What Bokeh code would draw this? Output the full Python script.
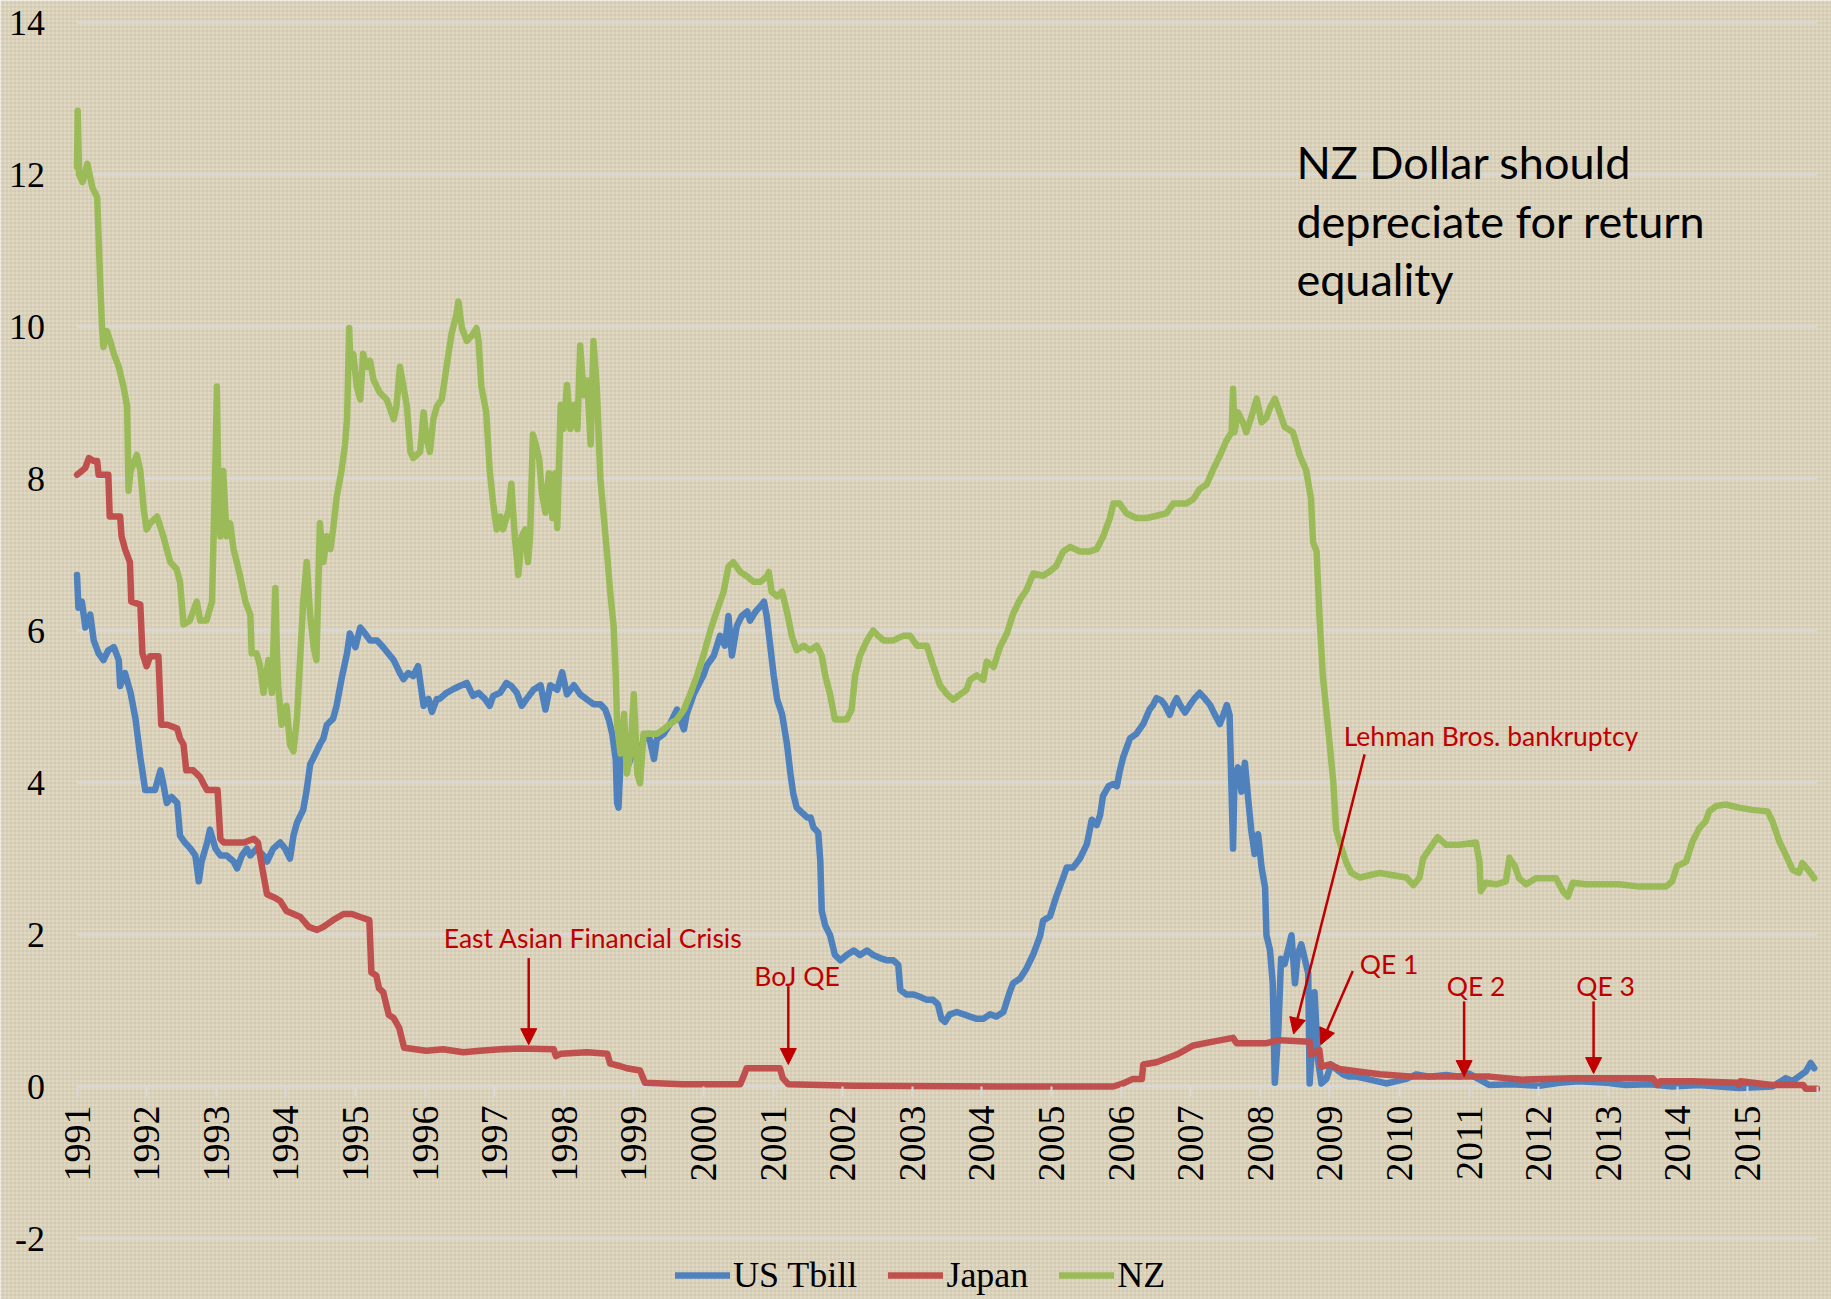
import math
from bokeh.plotting import figure
from bokeh.models import (ColumnDataSource, FixedTicker, Legend, LegendItem,
                          Arrow, NormalHead, BoxAnnotation)
from bokeh.core.properties import value
from bokeh.embed import file_html
from bokeh.resources import INLINE

# ---------------- data ----------------
years = list(range(1991, 2017))
year_labels = [str(y) if y < 2016 else "" for y in years]
y_ticks = [-2, 0, 2, 4, 6, 8, 10, 12, 14]
y_labels = ["-2", "0", "2", "4", "6", "8", "10", "12", "14"]

us_t = [1991.00, 1991.02, 1991.07, 1991.12, 1991.19, 1991.24, 1991.31, 1991.38, 1991.45, 1991.53,
        1991.60, 1991.62, 1991.69, 1991.77, 1991.84, 1991.91, 1991.98, 1992.05, 1992.12, 1992.20,
        1992.24, 1992.29, 1992.36, 1992.44, 1992.48, 1992.55, 1992.63, 1992.70, 1992.75, 1992.79,
        1992.87, 1992.91, 1992.99, 1993.06, 1993.15, 1993.25, 1993.30, 1993.37, 1993.44, 1993.49,
        1993.58, 1993.68, 1993.73, 1993.82, 1993.92, 1993.99, 1994.06, 1994.11, 1994.16, 1994.25,
        1994.30, 1994.35, 1994.40, 1994.49, 1994.54, 1994.59, 1994.68, 1994.73, 1994.80, 1994.88,
        1994.92, 1995.00, 1995.07, 1995.14, 1995.21, 1995.31, 1995.40, 1995.47, 1995.55, 1995.64,
        1995.69, 1995.76, 1995.83, 1995.90, 1995.98, 1996.05, 1996.10, 1996.17, 1996.21, 1996.31,
        1996.41, 1996.50, 1996.60, 1996.69, 1996.77, 1996.86, 1996.93, 1996.98, 1997.08, 1997.17,
        1997.24, 1997.32, 1997.39, 1997.46, 1997.56, 1997.66, 1997.73, 1997.80, 1997.90, 1997.97,
        1998.04, 1998.14, 1998.23, 1998.33, 1998.42, 1998.52, 1998.59, 1998.64, 1998.69, 1998.74,
        1998.76, 1998.78, 1998.81, 1998.86, 1998.93, 1999.00, 1999.07, 1999.14, 1999.21, 1999.29,
        1999.33, 1999.43, 1999.52, 1999.62, 1999.72, 1999.76, 1999.86, 2000.00, 2000.05, 2000.15,
        2000.24, 2000.31, 2000.36, 2000.41, 2000.48, 2000.55, 2000.63, 2000.67, 2000.75, 2000.82,
        2000.87, 2000.91, 2000.96, 2001.01, 2001.06, 2001.13, 2001.20, 2001.25, 2001.29, 2001.34,
        2001.42, 2001.49, 2001.54, 2001.58, 2001.65, 2001.68, 2001.70, 2001.75, 2001.82, 2001.89,
        2001.97, 2002.06, 2002.16, 2002.25, 2002.35, 2002.44, 2002.54, 2002.64, 2002.73, 2002.80,
        2002.83, 2002.92, 2003.02, 2003.11, 2003.21, 2003.30, 2003.37, 2003.42, 2003.47, 2003.54,
        2003.64, 2003.74, 2003.83, 2003.93, 2004.02, 2004.12, 2004.21, 2004.31, 2004.40, 2004.45,
        2004.55, 2004.64, 2004.74, 2004.84, 2004.88, 2004.98, 2005.07, 2005.17, 2005.22, 2005.31,
        2005.41, 2005.51, 2005.58, 2005.65, 2005.70, 2005.74, 2005.82, 2005.89, 2005.94, 2005.98,
        2006.03, 2006.13, 2006.22, 2006.32, 2006.41, 2006.46, 2006.51, 2006.58, 2006.63, 2006.70,
        2006.75, 2006.80, 2006.85, 2006.92, 2006.99, 2007.06, 2007.13, 2007.20, 2007.28, 2007.35,
        2007.42, 2007.47, 2007.52, 2007.56, 2007.61, 2007.63, 2007.68, 2007.73, 2007.78, 2007.83,
        2007.87, 2007.92, 2007.97, 2008.02, 2008.07, 2008.09, 2008.14, 2008.18, 2008.21, 2008.26,
        2008.30, 2008.35, 2008.40, 2008.45, 2008.50, 2008.54, 2008.59, 2008.64, 2008.69, 2008.71,
        2008.76, 2008.78, 2008.83, 2008.88, 2008.95, 2009.02, 2009.09, 2009.19, 2009.28, 2009.38,
        2009.53, 2009.67, 2009.81, 2009.96, 2010.10, 2010.24, 2010.43, 2010.67, 2010.86, 2011.00,
        2011.29, 2011.60, 2012.01, 2012.30, 2012.58, 2012.97, 2013.25, 2013.60, 2013.92, 2014.30,
        2014.88, 2015.36, 2015.55, 2015.65, 2015.84, 2015.91, 2015.96]
us_v = [6.73, 6.30, 6.38, 6.04, 6.21, 5.87, 5.70, 5.61, 5.74, 5.78,
        5.61, 5.27, 5.44, 5.18, 4.84, 4.33, 3.90, 3.90, 3.90, 4.16,
        3.98, 3.73, 3.81, 3.73, 3.30, 3.21, 3.13, 3.04, 2.70, 2.96,
        3.21, 3.38, 3.13, 3.04, 3.04, 2.96, 2.87, 3.04, 3.13, 3.04,
        3.13, 3.04, 2.96, 3.13, 3.21, 3.13, 3.00, 3.30, 3.47, 3.64,
        3.90, 4.24, 4.33, 4.50, 4.58, 4.76, 4.84, 5.01, 5.36, 5.70,
        5.96, 5.78, 6.04, 5.96, 5.87, 5.87, 5.78, 5.70, 5.61, 5.44,
        5.36, 5.44, 5.40, 5.53, 5.01, 5.10, 4.93, 5.10, 5.10, 5.18,
        5.23, 5.27, 5.31, 5.14, 5.18, 5.10, 5.01, 5.14, 5.18, 5.31,
        5.27, 5.18, 5.01, 5.10, 5.22, 5.28, 4.96, 5.28, 5.22, 5.45,
        5.16, 5.28, 5.16, 5.09, 5.03, 5.03, 4.96, 4.83, 4.64, 4.31,
        3.73, 3.67, 4.31, 4.64, 4.25, 4.44, 4.25, 4.57, 4.64, 4.31,
        4.57, 4.64, 4.77, 4.96, 4.70, 4.90, 5.16, 5.41, 5.54, 5.67,
        5.93, 5.80, 6.19, 5.67, 6.06, 6.19, 6.25, 6.13, 6.25, 6.32,
        6.38, 6.19, 5.80, 5.41, 5.09, 4.90, 4.51, 4.12, 3.86, 3.67,
        3.60, 3.54, 3.54, 3.41, 3.34, 2.96, 2.31, 2.12, 1.99, 1.73,
        1.66, 1.73, 1.79, 1.73, 1.79, 1.73, 1.69, 1.66, 1.66, 1.60,
        1.27, 1.21, 1.21, 1.18, 1.14, 1.14, 1.08, 0.89, 0.85, 0.95,
        0.98, 0.95, 0.92, 0.89, 0.89, 0.95, 0.92, 0.98, 1.24, 1.36,
        1.42, 1.55, 1.74, 1.99, 2.18, 2.24, 2.50, 2.75, 2.88, 2.88,
        3.00, 3.19, 3.51, 3.44, 3.57, 3.82, 3.95, 3.98, 3.95, 4.14,
        4.33, 4.58, 4.64, 4.77, 4.96, 5.02, 5.11, 5.08, 5.02, 4.89,
        5.02, 5.11, 5.02, 4.92, 5.02, 5.11, 5.18, 5.11, 5.02, 4.89,
        4.77, 4.89, 5.02, 4.89, 3.13, 4.01, 4.20, 3.88, 4.26, 3.76,
        3.38, 3.06, 3.32, 2.88, 2.62, 1.99, 1.80, 1.36, 0.05, 0.73,
        1.68, 1.61, 1.80, 1.99, 1.36, 1.74, 1.87, 1.68, 1.49, 0.04,
        0.73, 1.24, 0.35, 0.04, 0.10, 0.29, 0.23, 0.16, 0.13, 0.13,
        0.10, 0.07, 0.04, 0.07, 0.10, 0.16, 0.13, 0.15, 0.13, 0.17,
        0.02, 0.03, 0.01, 0.05, 0.07, 0.05, 0.02, 0.03, 0.00, 0.02,
        -0.02, 0.00, 0.11, 0.07, 0.20, 0.31, 0.24]

jp_t = [1991.00, 1991.07, 1991.12, 1991.17, 1991.24, 1991.29, 1991.31, 1991.45, 1991.47, 1991.62,
        1991.64, 1991.69, 1991.76, 1991.78, 1991.91, 1991.94, 1992.00, 1992.05, 1992.17, 1992.21,
        1992.30, 1992.44, 1992.48, 1992.53, 1992.57, 1992.67, 1992.77, 1992.82, 1992.87, 1993.02,
        1993.06, 1993.11, 1993.30, 1993.40, 1993.54, 1993.60, 1993.63, 1993.68, 1993.73, 1993.85,
        1993.92, 1994.01, 1994.11, 1994.21, 1994.33, 1994.45, 1994.54, 1994.68, 1994.83, 1994.95,
        1995.07, 1995.20, 1995.23, 1995.30, 1995.34, 1995.40, 1995.48, 1995.55, 1995.63, 1995.70,
        1996.02, 1996.26, 1996.55, 1996.79, 1997.08, 1997.36, 1997.85, 1997.88, 1997.95, 1998.33,
        1998.62, 1998.66, 1998.80, 1998.90, 1999.09, 1999.16, 1999.70, 2000.53, 2000.58, 2000.62,
        2001.10, 2001.14, 2001.22, 2002.16, 2004.26, 2005.89, 2006.03, 2006.17, 2006.30, 2006.32,
        2006.51, 2006.80, 2007.04, 2007.32, 2007.61, 2007.66, 2008.09, 2008.28, 2008.71, 2008.73,
        2008.85, 2008.88, 2009.00, 2009.14, 2009.38, 2009.72, 2010.20, 2010.86, 2011.30, 2011.77,
        2012.49, 2013.64, 2013.71, 2013.75, 2014.21, 2014.86, 2014.88, 2014.90, 2015.36, 2015.80,
        2015.84, 2016.00]
jp_v = [8.05, 8.10, 8.14, 8.27, 8.23, 8.23, 8.05, 8.05, 7.50, 7.50,
        7.24, 7.07, 6.90, 6.38, 6.34, 5.70, 5.53, 5.66, 5.66, 4.76,
        4.76, 4.71, 4.58, 4.50, 4.16, 4.16, 4.07, 3.98, 3.90, 3.90,
        3.26, 3.21, 3.21, 3.21, 3.26, 3.21, 3.04, 2.78, 2.53, 2.48,
        2.44, 2.31, 2.27, 2.23, 2.10, 2.06, 2.10, 2.19, 2.27, 2.27,
        2.23, 2.19, 1.50, 1.46, 1.29, 1.24, 0.94, 0.90, 0.77, 0.51,
        0.47, 0.49, 0.45, 0.47, 0.49, 0.50, 0.49, 0.40, 0.43, 0.45,
        0.43, 0.30, 0.27, 0.24, 0.21, 0.05, 0.03, 0.03, 0.14, 0.24,
        0.24, 0.11, 0.03, 0.01, 0.00, 0.00, 0.04, 0.10, 0.10, 0.29,
        0.32, 0.42, 0.54, 0.59, 0.64, 0.57, 0.57, 0.61, 0.59, 0.42,
        0.48, 0.26, 0.29, 0.23, 0.20, 0.16, 0.13, 0.13, 0.13, 0.09,
        0.11, 0.11, 0.02, 0.07, 0.07, 0.05, 0.02, 0.07, 0.02, 0.02,
        -0.03, -0.03]

nz_t = [1991.00, 1991.01, 1991.03, 1991.08, 1991.15, 1991.22, 1991.29, 1991.33, 1991.36, 1991.38,
        1991.43, 1991.48, 1991.53, 1991.60, 1991.67, 1991.72, 1991.74, 1991.77, 1991.86, 1991.91,
        1991.96, 1992.00, 1992.05, 1992.15, 1992.24, 1992.34, 1992.43, 1992.48, 1992.53, 1992.62,
        1992.72, 1992.77, 1992.86, 1992.94, 1992.99, 1993.01, 1993.03, 1993.06, 1993.10, 1993.15,
        1993.20, 1993.25, 1993.34, 1993.42, 1993.49, 1993.51, 1993.58, 1993.63, 1993.68, 1993.75,
        1993.80, 1993.85, 1993.87, 1993.89, 1993.94, 1994.01, 1994.06, 1994.11, 1994.16, 1994.20,
        1994.25, 1994.30, 1994.35, 1994.40, 1994.44, 1994.49, 1994.54, 1994.59, 1994.64, 1994.68,
        1994.73, 1994.80, 1994.85, 1994.88, 1994.91, 1994.93, 1994.97, 1995.02, 1995.07, 1995.11,
        1995.16, 1995.21, 1995.26, 1995.35, 1995.45, 1995.55, 1995.59, 1995.64, 1995.69, 1995.74,
        1995.79, 1995.83, 1995.93, 1995.98, 1996.02, 1996.07, 1996.12, 1996.17, 1996.24, 1996.31,
        1996.38, 1996.45, 1996.48, 1996.53, 1996.60, 1996.69, 1996.74, 1996.77, 1996.81, 1996.88,
        1996.93, 1996.98, 1997.03, 1997.08, 1997.12, 1997.20, 1997.24, 1997.29, 1997.34, 1997.39,
        1997.44, 1997.48, 1997.51, 1997.55, 1997.59, 1997.64, 1997.68, 1997.73, 1997.78, 1997.83,
        1997.87, 1997.90, 1997.95, 1997.99, 1998.04, 1998.09, 1998.14, 1998.19, 1998.23, 1998.28,
        1998.33, 1998.38, 1998.42, 1998.47, 1998.52, 1998.57, 1998.62, 1998.66, 1998.71, 1998.74,
        1998.76, 1998.81, 1998.86, 1998.90, 1998.95, 1999.00, 1999.05, 1999.09, 1999.14, 1999.24,
        1999.33, 1999.43, 1999.52, 1999.62, 1999.72, 1999.81, 1999.91, 2000.00, 2000.10, 2000.19,
        2000.29, 2000.36, 2000.43, 2000.53, 2000.63, 2000.72, 2000.82, 2000.91, 2000.94, 2000.98,
        2001.06, 2001.13, 2001.20, 2001.27, 2001.34, 2001.44, 2001.53, 2001.63, 2001.70, 2001.75,
        2001.82, 2001.89, 2001.97, 2002.06, 2002.13, 2002.18, 2002.25, 2002.35, 2002.44, 2002.51,
        2002.59, 2002.73, 2002.87, 2002.97, 2003.07, 2003.21, 2003.30, 2003.40, 2003.50, 2003.59,
        2003.69, 2003.78, 2003.83, 2003.93, 2004.02, 2004.07, 2004.17, 2004.26, 2004.36, 2004.45,
        2004.55, 2004.64, 2004.74, 2004.88, 2004.98, 2005.07, 2005.17, 2005.27, 2005.41, 2005.55,
        2005.65, 2005.74, 2005.84, 2005.89, 2005.98, 2006.08, 2006.22, 2006.37, 2006.51, 2006.65,
        2006.75, 2006.94, 2007.04, 2007.13, 2007.23, 2007.32, 2007.42, 2007.51, 2007.59, 2007.61,
        2007.63, 2007.68, 2007.75, 2007.80, 2007.87, 2007.95, 2008.02, 2008.09, 2008.14, 2008.21,
        2008.28, 2008.35, 2008.47, 2008.57, 2008.66, 2008.73, 2008.76, 2008.81, 2008.85, 2008.90,
        2008.97, 2009.05, 2009.09, 2009.17, 2009.24, 2009.31, 2009.43, 2009.57, 2009.72, 2009.91,
        2010.10, 2010.20, 2010.29, 2010.34, 2010.48, 2010.55, 2010.67, 2010.86, 2011.10, 2011.15,
        2011.17, 2011.24, 2011.39, 2011.53, 2011.58, 2011.61, 2011.65, 2011.72, 2011.82, 2011.96,
        2012.11, 2012.25, 2012.35, 2012.42, 2012.49, 2012.68, 2012.87, 2013.16, 2013.45, 2013.68,
        2013.83, 2013.92, 2013.99, 2014.12, 2014.21, 2014.31, 2014.40, 2014.45, 2014.55, 2014.69,
        2014.88, 2015.07, 2015.29, 2015.36, 2015.46, 2015.55, 2015.65, 2015.74, 2015.79, 2015.89,
        2015.96]
nz_v = [12.10, 12.84, 12.00, 11.90, 12.14, 11.83, 11.70, 10.67, 9.98, 9.73,
        9.94, 9.80, 9.64, 9.47, 9.20, 8.95, 7.84, 8.10, 8.31, 8.10,
        7.58, 7.33, 7.41, 7.50, 7.24, 6.90, 6.81, 6.64, 6.08, 6.13,
        6.38, 6.13, 6.13, 6.38, 8.27, 9.21, 7.93, 7.24, 8.10, 7.24,
        7.41, 7.07, 6.73, 6.38, 6.21, 5.70, 5.70, 5.53, 5.18, 5.61,
        5.18, 6.56, 5.78, 5.27, 4.76, 5.01, 4.50, 4.41, 4.84, 5.53,
        6.38, 6.90, 6.21, 5.78, 5.61, 7.41, 6.90, 7.24, 7.07, 7.33,
        7.75, 8.10, 8.44, 8.78, 9.98, 9.47, 9.64, 9.21, 9.04, 9.64,
        9.47, 9.55, 9.30, 9.13, 9.04, 8.78, 8.95, 9.47, 9.21, 8.95,
        8.35, 8.27, 8.35, 8.87, 8.53, 8.35, 8.78, 8.95, 9.04, 9.47,
        9.90, 10.15, 10.33, 9.98, 9.81, 9.90, 9.98, 9.81, 9.21, 8.87,
        8.10, 7.67, 7.33, 7.50, 7.33, 7.58, 7.93, 7.24, 6.73, 7.24,
        7.33, 6.90, 7.23, 8.58, 8.45, 8.26, 7.81, 7.55, 8.07, 7.48,
        8.07, 7.35, 8.97, 8.65, 9.23, 8.65, 8.97, 8.65, 9.75, 9.10,
        9.29, 8.45, 9.81, 9.16, 8.00, 7.48, 6.97, 6.51, 6.06, 5.41,
        4.77, 4.38, 4.90, 4.12, 4.38, 5.16, 4.12, 3.99, 4.64, 4.64,
        4.64, 4.70, 4.77, 4.83, 4.96, 5.16, 5.41, 5.67, 6.00, 6.25,
        6.51, 6.84, 6.90, 6.77, 6.71, 6.64, 6.64, 6.71, 6.77, 6.51,
        6.45, 6.51, 6.25, 5.93, 5.74, 5.80, 5.74, 5.80, 5.67, 5.41,
        5.16, 4.83, 4.83, 4.83, 4.96, 5.41, 5.67, 5.87, 6.00, 5.93,
        5.87, 5.87, 5.93, 5.93, 5.80, 5.80, 5.54, 5.28, 5.16, 5.09,
        5.16, 5.22, 5.35, 5.41, 5.35, 5.59, 5.52, 5.78, 5.96, 6.22,
        6.41, 6.53, 6.75, 6.72, 6.78, 6.85, 7.04, 7.10, 7.04, 7.04,
        7.07, 7.23, 7.48, 7.67, 7.67, 7.54, 7.48, 7.48, 7.51, 7.54,
        7.67, 7.67, 7.73, 7.86, 7.92, 8.11, 8.30, 8.49, 8.61, 9.18,
        8.61, 8.87, 8.74, 8.61, 8.80, 9.05, 8.74, 8.80, 8.93, 9.05,
        8.87, 8.68, 8.61, 8.30, 8.11, 7.73, 7.16, 7.04, 6.22, 5.40,
        4.77, 4.01, 3.38, 3.13, 2.94, 2.81, 2.75, 2.78, 2.81, 2.78,
        2.75, 2.65, 2.75, 3.00, 3.19, 3.28, 3.18, 3.18, 3.21, 2.96,
        2.57, 2.68, 2.66, 2.70, 3.01, 2.96, 2.92, 2.74, 2.66, 2.74,
        2.74, 2.74, 2.57, 2.50, 2.68, 2.66, 2.66, 2.66, 2.63, 2.63,
        2.63, 2.70, 2.90, 2.96, 3.22, 3.40, 3.49, 3.62, 3.69, 3.71,
        3.67, 3.64, 3.62, 3.49, 3.22, 3.05, 2.85, 2.81, 2.94, 2.83,
        2.74]

series_names = ["US Tbill", "Japan", "NZ"]
series_colors = ["#4F81BD", "#C0504D", "#9BBB59"]

# annotations (label text, label x/y, arrow start x/y, arrow tip x/y)
ann_text = ["East Asian Financial Crisis", "BoJ QE", "Lehman Bros. bankruptcy", "QE 1", "QE 2", "QE 3"]
ann_x = [1996.27, 2000.73, 2009.20, 2009.43, 2010.68, 2012.54]
ann_y = [1.95, 1.45, 4.61, 1.61, 1.32, 1.32]
arr_x0 = [1997.49, 2001.22, 2009.50, 2009.33, 2010.93, 2012.79]
arr_y0 = [1.69, 1.32, 4.37, 1.52, 1.12, 1.12]
arr_x1 = [1997.49, 2001.22, 2008.48, 2008.87, 2010.93, 2012.79]
arr_y1 = [0.55, 0.29, 0.69, 0.55, 0.13, 0.17]

note_lines = ["NZ Dollar should", "depreciate for return", "equality"]
note_x = [2008.52, 2008.52, 2008.52]
note_y = [12.17, 11.39, 10.63]

# ---------------- figure ----------------
W, H = 1831, 1299
px_per_year = 69.6
px_per_unit = 76.0
x0 = 1991 - 76.5 / px_per_year
x1 = x0 + W / px_per_year
y_top = 14 + 22 / px_per_unit
y_bot = 0 - (H - 1086) / px_per_unit

BG = "#e2d9c5"
p = figure(width=W, height=H, x_range=(x0, x1), y_range=(y_bot, y_top),
           output_backend="svg", toolbar_location=None,
           min_border_left=0, min_border_right=0, min_border_top=0, min_border_bottom=0,
           background_fill_color=BG, border_fill_color=BG, outline_line_color=None)
p.xgrid.visible = False
p.ygrid.visible = False

# linen-like texture
p.add_layout(BoxAnnotation(fill_color=None, line_color=None, level="underlay",
                           hatch_pattern="+", hatch_color="#9c8b6c", hatch_alpha=0.22,
                           hatch_scale=4, hatch_weight=1))

# gridlines between first and last year
p.segment(x0=years[0], x1=years[-1], y0=y_ticks, y1=y_ticks,
          line_color="#d9d9d9", line_width=2)

# axes
xa = p.xaxis[0]
xa.fixed_location = 0
xa.ticker = FixedTicker(ticks=years)
xa.major_label_overrides = {y: l for y, l in zip(years, year_labels)}
xa.major_label_orientation = math.pi / 2
xa.major_label_text_font = "Liberation Serif"
xa.major_label_text_font_size = "38px"
xa.major_label_text_color = "black"
xa.major_label_standoff = 9
xa.axis_line_color = None
xa.major_tick_line_color = "#d9d9d9"
xa.major_tick_line_width = 2
xa.major_tick_out = 10
xa.major_tick_in = 0
xa.minor_tick_line_color = None

ya = p.yaxis[0]
ya.fixed_location = years[0]
ya.ticker = FixedTicker(ticks=y_ticks)
ya.major_label_overrides = {t: l for t, l in zip(y_ticks, y_labels)}
ya.major_label_text_font = "Liberation Serif"
ya.major_label_text_font_size = "36px"
ya.major_label_text_color = "black"
ya.major_label_standoff = 32
ya.axis_line_color = None
ya.major_tick_line_color = None
ya.major_tick_out = 0
ya.major_tick_in = 0
ya.minor_tick_line_color = None

# series
renderers = []
for t, v, c in [(us_t, us_v, series_colors[0]), (jp_t, jp_v, series_colors[1]), (nz_t, nz_v, series_colors[2])]:
    r = p.line(t, v, line_color=c, line_width=6.5, line_join="round", line_cap="round")
    renderers.append(r)

# annotations
ann_color = "#C00000"
p.text(x=ann_x, y=ann_y, text=ann_text, text_color=ann_color,
       text_font=value("Lato"), text_font_size="26.5px",
       text_baseline="middle", text_align="left")
arr_src = ColumnDataSource(dict(x0=arr_x0, y0=arr_y0, x1=arr_x1, y1=arr_y1))
p.add_layout(Arrow(end=NormalHead(size=16, fill_color=ann_color, line_color=ann_color, line_width=1),
                   x_start="x0", y_start="y0", x_end="x1", y_end="y1", source=arr_src,
                   line_color=ann_color, line_width=2.5))

p.text(x=note_x, y=note_y, text=note_lines, text_color="black",
       text_font=value("Lato"), text_font_size="45px",
       text_baseline="middle", text_align="left")

# legend
legend = Legend(items=[LegendItem(label=n, renderers=[r]) for n, r in zip(series_names, renderers)],
                orientation="horizontal", location=(675, 3),
                background_fill_alpha=0, border_line_color=None,
                label_text_font="Liberation Serif", label_text_font_size="36px",
                label_text_color="black",
                glyph_width=55, glyph_height=40, label_height=40, label_standoff=3,
                spacing=31, padding=0, margin=0)
p.add_layout(legend, "center")

open("out.html", "w").write(file_html(p, INLINE))
